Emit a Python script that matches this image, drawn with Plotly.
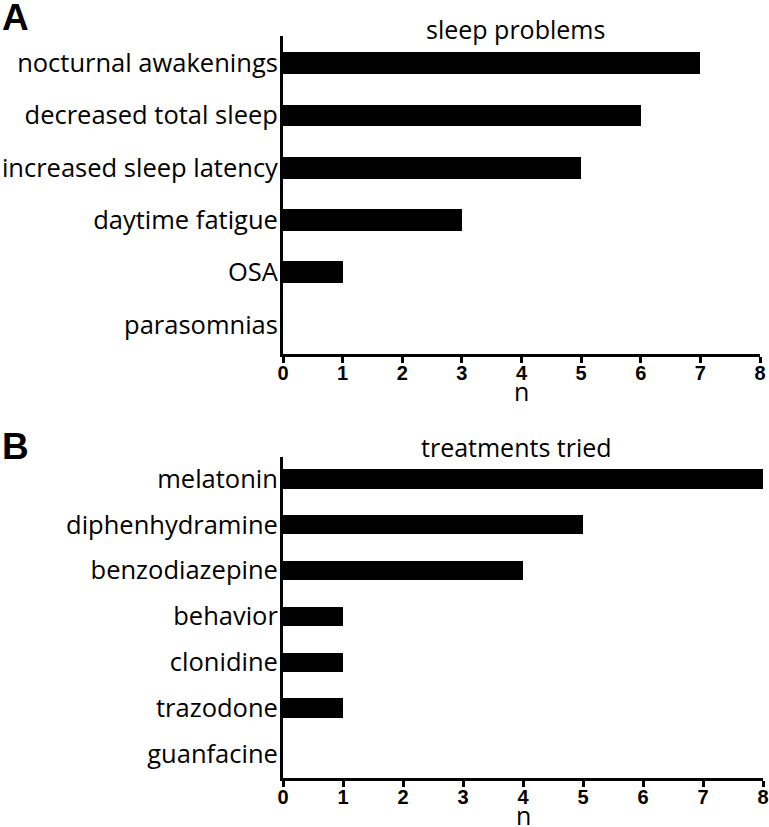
import plotly.graph_objects as go

problems = ["nocturnal awakenings", "decreased total sleep", "increased sleep latency",
            "daytime fatigue", "OSA", "parasomnias"]
problem_n = [7, 6, 5, 3, 1, 0]

treatments = ["melatonin", "diphenhydramine", "benzodiazepine", "behavior",
              "clonidine", "trazodone", "guanfacine"]
treatment_n = [8, 5, 4, 1, 1, 1, 0]

x_ticks = [0, 1, 2, 3, 4, 5, 6, 7, 8]

W, H = 769, 827
LABEL_FONT = dict(family="Open Sans, Noto Sans, sans-serif", size=25.5, color="black")
TICK_FONT = dict(family="Liberation Sans, Arial, sans-serif", size=20, color="black", weight="bold")
TITLE_FONT = dict(family="Open Sans, sans-serif", size=25, color="black")
LETTER_FONT = dict(family="Liberation Sans, Arial, sans-serif", size=37, color="black")

fig = go.Figure()
fig.add_trace(go.Bar(x=problem_n, y=list(range(len(problems))), orientation="h",
                     marker=dict(color="black", line=dict(width=0)), width=0.42,
                     xaxis="x", yaxis="y", showlegend=False, hoverinfo="skip"))
fig.add_trace(go.Bar(x=treatment_n, y=list(range(len(treatments))), orientation="h",
                     marker=dict(color="black", line=dict(width=0)), width=0.42,
                     xaxis="x2", yaxis="y2", showlegend=False, hoverinfo="skip"))

def py(p):
    return 1 - p / H

xaxis_common = dict(range=[0, 8], tickvals=x_ticks, ticks="outside", ticklen=6, tickwidth=3,
                    tickcolor="black", showline=True, linewidth=3, linecolor="black",
                    showgrid=False, zeroline=False, tickfont=TICK_FONT, automargin=False,
                    ticklabelstandoff=-7)
yaxis_common = dict(showline=True, linewidth=3, linecolor="black", showgrid=False,
                    zeroline=False, ticks="", tickfont=LABEL_FONT, automargin=False,
                    ticklabelstandoff=-3)

fig.update_layout(
    width=W, height=H,
    margin=dict(l=0, r=0, t=0, b=0),
    plot_bgcolor="white", paper_bgcolor="white",
    bargap=0,
    xaxis=dict(domain=[283 / W, 760 / W], anchor="y", **xaxis_common),
    yaxis=dict(domain=[py(353.5), py(36)], anchor="x", range=[5.55, -0.52],
               tickvals=list(range(len(problems))), ticktext=problems, **yaxis_common),
    xaxis2=dict(domain=[283 / W, 763 / W], anchor="y2", **xaxis_common),
    yaxis2=dict(domain=[py(777.5), py(457)], anchor="x2", range=[6.52, -0.48],
                tickvals=list(range(len(treatments))), ticktext=treatments, **yaxis_common),
    annotations=[
        dict(text="<b>A</b>", x=0, y=py(-5), xref="paper", yref="paper", xanchor="left",
             yanchor="top", showarrow=False, font=LETTER_FONT),
        dict(text="<b>B</b>", x=0, y=py(424), xref="paper", yref="paper", xanchor="left",
             yanchor="top", showarrow=False, font=LETTER_FONT),
        dict(text="sleep problems", x=515 / W, y=py(29), xref="paper", yref="paper",
             xanchor="center", yanchor="middle", showarrow=False, font=TITLE_FONT),
        dict(text="treatments tried", x=516 / W, y=py(447), xref="paper", yref="paper",
             xanchor="center", yanchor="middle", showarrow=False, font=TITLE_FONT),
        dict(text="n", x=4, y=py(391), xref="x", yref="paper",
             xanchor="center", yanchor="middle", showarrow=False, font=TITLE_FONT),
        dict(text="n", x=4, y=py(815), xref="x2", yref="paper",
             xanchor="center", yanchor="middle", showarrow=False, font=TITLE_FONT),
    ],
)

fig.write_html("out.html", post_script="document.body.style.margin='0px';",
               config={"displayModeBar": False})
